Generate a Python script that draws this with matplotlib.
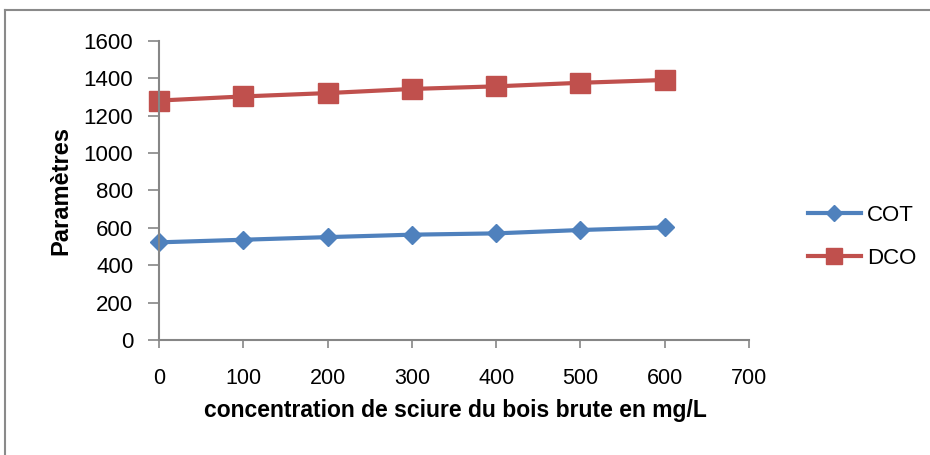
import matplotlib
matplotlib.use("Agg")
import matplotlib.pyplot as plt
from matplotlib.lines import Line2D

concentration = [0, 100, 200, 300, 400, 500, 600]
cot = [522, 536, 550, 563, 570, 588, 602]
dco = [1280, 1302, 1320, 1342, 1356, 1375, 1390]
x_ticks = [0, 100, 200, 300, 400, 500, 600, 700]
y_ticks = [0, 200, 400, 600, 800, 1000, 1200, 1400, 1600]

FONT = ["Liberation Sans", "DejaVu Sans"]
plt.rcParams['font.family'] = FONT

fig = plt.figure(figsize=(9.3, 4.55), dpi=100)
ax = fig.add_axes([159/930, 1-340/455, (749-159)/930, (340-40.7)/455])

blue = "#4F81BD"
red = "#C0504D"
ax.plot(concentration, cot, color=blue, lw=3, marker="D", ms=9.5,
        mfc=blue, mec=blue, label="COT", clip_on=False)
ax.plot(concentration, dco, color=red, lw=3, marker="s", ms=14,
        mfc=red, mec=red, label="DCO", clip_on=False)

ax.set_xlim(0, 700)
ax.set_ylim(0, 1600)
ax.set_xticks(x_ticks)
ax.set_yticks(y_ticks)
for s in ["top", "right"]:
    ax.spines[s].set_visible(False)
for s in ["left", "bottom"]:
    ax.spines[s].set_color("#868686")
    ax.spines[s].set_linewidth(1.5)
ax.tick_params(axis="both", colors="#868686", labelcolor="black", width=1.2)
ax.tick_params(axis="y", length=8, pad=10.5, labelsize=16)
ax.tick_params(axis="x", length=5.8, pad=14, labelsize=15.5)

ax.set_xlabel("concentration de sciure du bois brute en mg/L", fontsize=16.5,
              fontweight="bold")
ax.xaxis.set_label_coords(0.502, (340-399)/299.3)
ax.set_ylabel("Paramètres", fontsize=17, fontweight="bold")
ax.yaxis.set_label_coords((72-159)/590, 0.5)

leg = fig.legend(loc="center left", bbox_to_anchor=(799/930, 1-237/455),
                 frameon=False, fontsize=16, handlelength=2.39,
                 labelspacing=1.0, handletextpad=0.27, markerscale=0.85,
                 borderaxespad=0)

# outer frame (left and top borders)
fig.add_artist(Line2D([5/930, 5/930], [0, 1-10/455], transform=fig.transFigure,
                      color="#8a8a8a", lw=1.5))
fig.add_artist(Line2D([5/930, 1], [1-10/455, 1-10/455], transform=fig.transFigure,
                      color="#8a8a8a", lw=1.5))

fig.savefig("out.png", dpi=100)
